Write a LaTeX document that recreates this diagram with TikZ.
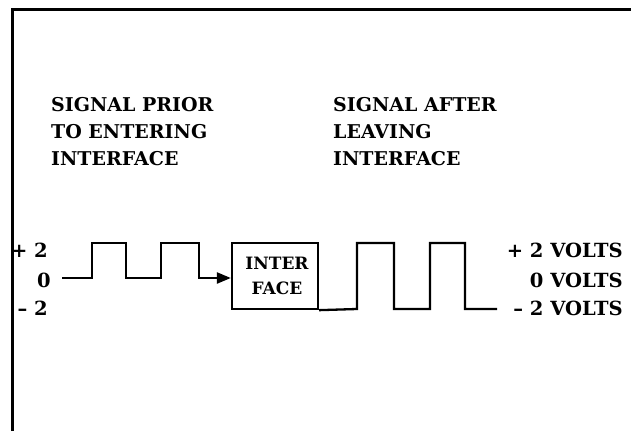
\documentclass[tikz,border=0pt]{standalone}
\usepackage{fontspec}
\setmainfont{DejaVu Serif}
\usetikzlibrary{arrows.meta}
\begin{document}
\begin{tikzpicture}[x=1pt,y=-1pt,
  frame/.style={line width=3pt},
  wave/.style={line width=2.3pt, line join=miter},
  heading/.style={font=\bfseries\fontsize{19}{27}\selectfont, align=left, anchor=north west, inner sep=0pt},
  lvl/.style={font=\bfseries\fontsize{19.5}{20}\selectfont, inner sep=0pt, anchor=east},
  boxstyle/.style={draw, line width=2.3pt, minimum width=86pt, minimum height=66pt, inner sep=0pt, align=center, font=\bfseries\fontsize{17}{25}\selectfont}]
\useasboundingbox (0,0) rectangle (631,431);
\draw[frame] (12,431) -- (12,9) -- (631,9);

\node[heading] (hin) at (51,97) {SIGNAL PRIOR\\TO ENTERING\\INTERFACE};
\node[heading] (hout) at (333,97) {SIGNAL AFTER\\LEAVING\\INTERFACE};

\node[lvl] (lp) at (48,250) {+ 2};
\node[lvl] (lz) at (51,280) {0};
\node[lvl] (lm) at (48,308) {– 2};

\node[lvl] (rp) at (623,250) {+ 2 VOLTS};
\node[lvl] (rz) at (623,280) {0 VOLTS};
\node[lvl] (rm) at (623,308) {– 2 VOLTS};

\node[boxstyle] (iface) at (275,276) {\hspace*{4pt}INTER\\\hspace*{4pt}FACE};

\coordinate (in0) at (62,278);
\coordinate (out1) at (497,309);

\draw[wave, -{Triangle[length=14pt,width=11pt]}] (in0) -- (92,278) -- (92,243) -- (126,243) -- (126,278) -- (161,278) -- (161,243) -- (199,243) -- (199,278) -- (iface.west |- in0);
\draw[wave] (iface.south east) -- (357,309) -- (357,243) -- (394,243) -- (394,309) -- (430,309) -- (430,243) -- (465,243) -- (465,309) -- (out1);
\end{tikzpicture}
\end{document}
